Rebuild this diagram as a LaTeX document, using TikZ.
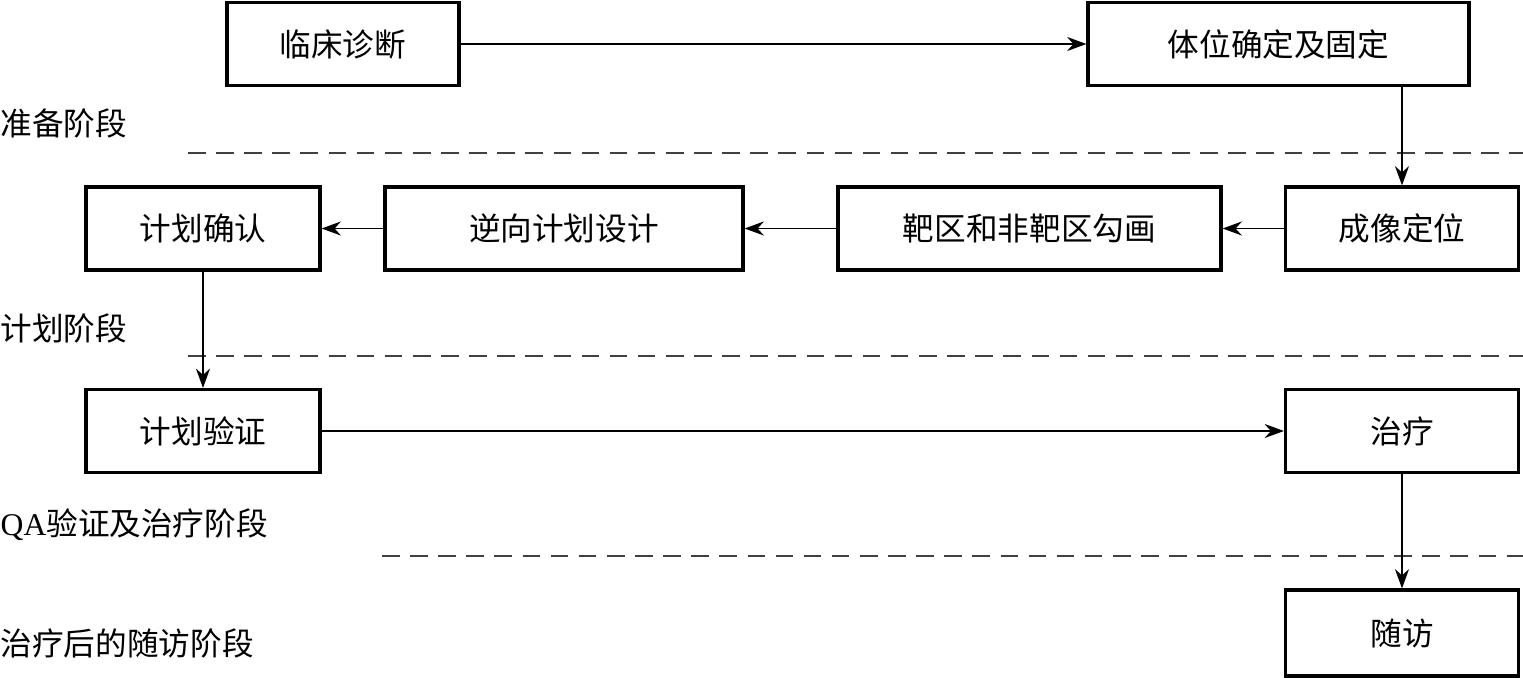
\documentclass[tikz,border=0pt]{standalone}
\usepackage{fontspec}
\setmainfont{Liberation Serif}
\newfontfamily\cjk{Noto Sans CJK SC}
\usetikzlibrary{arrows.meta, positioning, calc}

\begin{document}
\begin{tikzpicture}[
  every node/.style={font=\fontsize{9}{11}\selectfont\cjk},
  stagebox/.style={draw=black, line width=0.9pt, minimum height=0.83cm,
                   inner sep=0pt, align=center},
  phase/.style={anchor=west, inner sep=0pt},
  arr/.style={-{Stealth[length=5.5pt, width=4pt, inset=1.8pt]}, line width=0.45pt},
  sep/.style={dash pattern=on 5pt off 3pt, line width=0.5pt, black!75},
]
  \useasboundingbox (0,0) rectangle (15.23,-6.78);

  % preparation
  \node[stagebox, minimum width=2.32cm] (diag) at (3.43,-0.44) {临床诊断};
  \node[stagebox, minimum width=3.81cm] (pos) at (12.785,-0.44) {体位确定及固定};

  % planning
  \node[stagebox, minimum width=2.33cm] (img) at (14.02,-2.285) {成像定位};
  \node[stagebox, minimum width=3.83cm] (contour) at (10.295,-2.285) {靶区和非靶区勾画};
  \node[stagebox, minimum width=3.58cm] (inverse) at (5.64,-2.285) {逆向计划设计};
  \node[stagebox, minimum width=2.34cm] (confirm) at (2.03,-2.285) {计划确认};

  % QA and treatment
  \node[stagebox, minimum width=2.34cm] (verify) at (2.03,-4.31) {计划验证};
  \node[stagebox, minimum width=2.33cm] (treat) at (14.02,-4.31) {治疗};

  % follow-up
  \node[stagebox, minimum width=2.33cm, minimum height=0.86cm] (follow) at (14.02,-6.33) {随访};

  % phase labels
  \node[phase] (p1) at (0,-1.23) {准备阶段};
  \node[phase] (p2) at (0,-3.28) {计划阶段};
  \node[phase] (p3) at (0,-5.25) {{\rmfamily QA}验证及治疗阶段};
  \node[phase] (p4) at (0,-6.43) {治疗后的随访阶段};

  % separators
  \coordinate (s1a) at (1.88,-1.53);
  \coordinate (s1b) at (15.23,-1.53);
  \coordinate (s2a) at (1.88,-3.56);
  \coordinate (s2b) at (15.23,-3.56);
  \coordinate (s3a) at (3.82,-5.56);
  \coordinate (s3b) at (15.23,-5.56);
  \draw[sep] (s1a) -- (s1b);
  \draw[sep] (s2a) -- (s2b);
  \draw[sep] (s3a) -- (s3b);

  % flow
  \draw[arr] (diag.east) -- (pos.west);
  \draw[arr] (img.north |- pos.south) -- (img.north);
  \draw[arr] (img.west) -- (contour.east);
  \draw[arr] (contour.west) -- (inverse.east);
  \draw[arr] (inverse.west) -- (confirm.east);
  \draw[arr] (confirm.south) -- (verify.north);
  \draw[arr] (verify.east) -- (treat.west);
  \draw[arr] (treat.south) -- (follow.north);
\end{tikzpicture}
\end{document}
